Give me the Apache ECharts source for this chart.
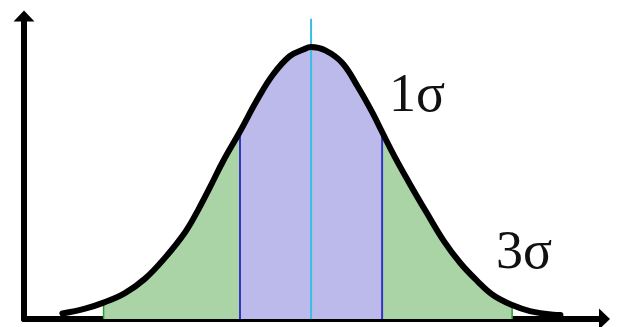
<!DOCTYPE html>
<html>
<head>
<meta charset="utf-8">
<script src="https://cdn.jsdelivr.net/npm/echarts@6/dist/echarts.min.js"></script>
<style>
html,body{margin:0;padding:0;background:#fff;}
#chart{width:620px;height:327px;}
</style>
</head>
<body>
<div id="chart"></div>
<script>
// Curve: x in units of sigma (mean = 0), y relative to the peak height
const curveX = [-3.50,-3.18,-2.92,-2.62,-2.34,-2.06,-1.77,-1.59,-1.42,-1.24,-1.00,-0.76,-0.54,-0.30,-0.11,0.00,0.20,0.44,0.66,0.86,1.00,1.18,1.37,1.63,1.86,2.10,2.34,2.56,2.83,3.08,3.41,3.51];
const curveY = [0.020,0.038,0.060,0.095,0.147,0.223,0.319,0.399,0.484,0.577,0.687,0.802,0.894,0.963,0.987,0.996,0.984,0.938,0.850,0.758,0.685,0.593,0.504,0.388,0.289,0.205,0.139,0.088,0.051,0.029,0.016,0.015];
// Band edges (x positions of the vertical lines)
const threeSigmaEdges = [-2.92, 2.83];
const oneSigmaEdges = [-1.00, 1.00];
const meanX = 0;
const meanLineTop = 1.10;
// Annotation texts
const labels = ['1σ', '3σ'];

const curve = curveX.map((x, i) => [x, curveY[i]]);
function band(lo, hi) { return curve.filter(p => p[0] >= lo - 1e-9 && p[0] <= hi + 1e-9); }
function yAt(x) { const i = curveX.indexOf(x); return curveY[i]; }
function vline(x, top, color, width) {
  return {
    type: 'line', data: [[x, 0], [x, top]], symbol: 'none', silent: true,
    lineStyle: { color: color, width: width }, z: 3
  };
}

const chart = echarts.init(document.getElementById('chart'), null, { renderer: 'canvas' });
const axisLineCommon = {
  show: true, onZero: false,
  lineStyle: { color: '#000', width: 6 },
  symbol: ['none', 'triangle'], symbolSize: [21, 11]
};
const SMOOTH = 0.4;
const option = {
  animation: false,
  backgroundColor: '#fff',
  grid: { left: 24, right: 15.5, top: 16, bottom: 8 },
  xAxis: {
    type: 'value', min: -4.04, max: 4.13,
    axisLine: axisLineCommon, axisTick: { show: false },
    axisLabel: { show: false }, splitLine: { show: false }
  },
  yAxis: {
    type: 'value', min: 0, max: 1.11,
    axisLine: axisLineCommon, axisTick: { show: false },
    axisLabel: { show: false }, splitLine: { show: false }
  },
  series: [
    {
      type: 'line', data: band(threeSigmaEdges[0], threeSigmaEdges[1]), smooth: SMOOTH,
      symbol: 'none', lineStyle: { width: 0 }, areaStyle: { color: '#aad4a6', opacity: 1 }, z: 1, silent: true
    },
    {
      type: 'line', data: band(oneSigmaEdges[0], oneSigmaEdges[1]), smooth: SMOOTH,
      symbol: 'none', lineStyle: { width: 0 }, areaStyle: { color: '#bcbaea', opacity: 1 }, z: 2, silent: true
    },
    vline(threeSigmaEdges[0], yAt(threeSigmaEdges[0]), '#2f9b2f', 1.5),
    vline(threeSigmaEdges[1], yAt(threeSigmaEdges[1]), '#2f9b2f', 1.5),
    vline(oneSigmaEdges[0], yAt(oneSigmaEdges[0]), '#3434c8', 2),
    vline(oneSigmaEdges[1], yAt(oneSigmaEdges[1]), '#3434c8', 2),
    vline(meanX, meanLineTop, '#3cbde6', 2),
    {
      type: 'line', data: curve, smooth: SMOOTH, symbol: 'none', silent: true,
      lineStyle: { color: '#000', width: 6, cap: 'round', join: 'round' }, z: 5
    }
  ],
  graphic: [
    { type: 'text', left: 389, top: 70, z: 10,
      style: { text: labels[0], fontFamily: 'Liberation Serif', fontSize: 54, fill: '#111' } },
    { type: 'text', left: 496, top: 227, z: 10,
      style: { text: labels[1], fontFamily: 'Liberation Serif', fontSize: 54, fill: '#111' } }
  ]
};
chart.setOption(option);
</script>
</body>
</html>
